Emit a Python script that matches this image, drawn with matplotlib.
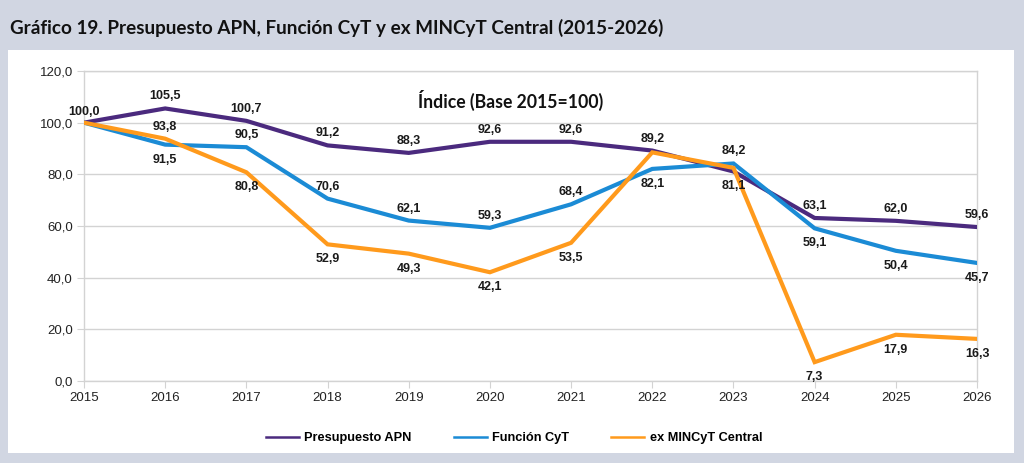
import matplotlib
matplotlib.use('Agg')
import matplotlib.pyplot as plt
from matplotlib.patches import Rectangle

# Data
years = [2015, 2016, 2017, 2018, 2019, 2020, 2021, 2022, 2023, 2024, 2025, 2026]
apn = [100.0, 105.5, 100.7, 91.2, 88.3, 92.6, 92.6, 89.2, 81.1, 63.1, 62.0, 59.6]
funcion_cyt = [100.0, 91.5, 90.5, 70.6, 62.1, 59.3, 68.4, 82.1, 84.2, 59.1, 50.4, 45.7]
mincyt = [100.0, 93.8, 80.8, 52.9, 49.3, 42.1, 53.5, 88.5, 82.5, 7.3, 17.9, 16.3]

# label placement per point: 'a' above, 'b' below, None = no label
apn_pos = ['a', 'a', 'a', 'a', 'a', 'a', 'a', 'a', 'b', 'a', 'a', 'a']
cyt_pos = [None, 'b', 'a', 'a', 'a', 'a', 'a', 'b', 'a', 'b', 'b', 'b']
mincyt_pos = [None, 'a', 'b', 'b', 'b', 'b', 'b', None, None, 'b', 'b', 'b']

series = [
    ('Presupuesto APN', apn, apn_pos, '#4b2a7e'),
    ('Función CyT', funcion_cyt, cyt_pos, '#1b8bd5'),
    ('ex MINCyT Central', mincyt, mincyt_pos, '#ff9a1c'),
]

bg = '#d1d6e2'
grid_c = '#d3d3d3'
tick_font = 'Liberation Sans'

fig = plt.figure(figsize=(10.24, 4.63), dpi=100, facecolor=bg)
# white inner panel
fig.patches.append(Rectangle((8 / 1024, 1 - 453 / 463), 1006 / 1024, 403 / 463,
                             transform=fig.transFigure, facecolor='white',
                             edgecolor='none', zorder=0))

fig.text(10 / 1024, 1 - 28 / 463,
         'Gráfico 19. Presupuesto APN, Función CyT y ex MINCyT Central (2015-2026)',
         fontsize=13.6, fontweight='bold', family='Lato', color='#111111',
         va='center', ha='left')

ax = fig.add_axes([84 / 1024, 1 - 381 / 463, (977 - 84) / 1024, (381 - 71) / 463])
ax.set_zorder(2)
ax.set_facecolor('white')

for name, vals, pos, col in series:
    ax.plot(years, vals, color=col, lw=3.0, label=name, solid_joinstyle='miter',
            zorder=3)
    for x, v, p in zip(years, vals, pos):
        if p is None:
            continue
        dy = 12 if p == 'a' else -15
        if x == 2015:
            dy = 11
        ax.annotate(f'{v:.1f}'.replace('.', ','), (x, v),
                    xytext=(0, dy), textcoords='offset pixels',
                    ha='center', va='center', fontsize=9,
                    fontweight='bold', family=tick_font, color='#1a1a1a',
                    zorder=4)

ax.set_xlim(2015, 2026)
ax.set_ylim(0, 120)
ax.set_xticks(years)
ax.set_xticklabels([str(y) for y in years])
ax.set_yticks(range(0, 121, 20))
ax.set_yticklabels([f'{v:.1f}'.replace('.', ',') for v in range(0, 121, 20)])
ax.grid(axis='y', color=grid_c, lw=1.0)
ax.set_axisbelow(True)
for sp in ax.spines.values():
    sp.set_color(grid_c)
    sp.set_linewidth(1.0)
ax.tick_params(axis='both', length=5, color=grid_c, labelsize=9.5,
               labelcolor='#222222', pad=3)
for lab in ax.get_xticklabels() + ax.get_yticklabels():
    lab.set_family(tick_font)

ax.text(0.5 + (510 - 530) / 893, 1 - (100 - 71) / 310, 'Índice (Base 2015=100)',
        transform=ax.transAxes, ha='center', va='center', fontsize=12.7,
        fontweight='bold', family='Lato', color='#111111')

leg = fig.legend(loc='center', bbox_to_anchor=(514 / 1024, 1 - 438 / 463),
                 ncol=3, frameon=False, handlelength=2.6, handletextpad=0.4,
                 columnspacing=3.3, prop={'family': tick_font, 'weight': 'bold',
                                          'size': 9.2})
for line in leg.get_lines():
    line.set_linewidth(1.8)

fig.savefig('out.png', dpi=100, facecolor=bg)
